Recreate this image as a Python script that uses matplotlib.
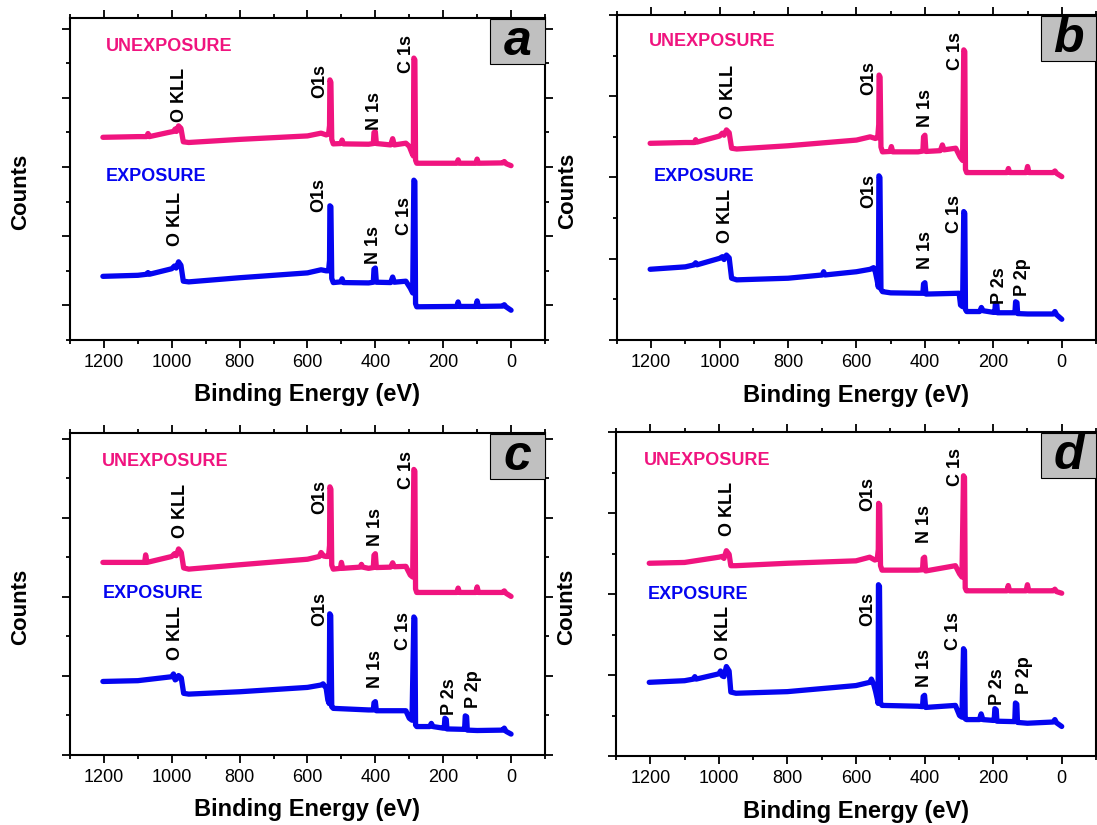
import matplotlib
matplotlib.use("Agg")
import matplotlib.pyplot as plt
from matplotlib.patches import Rectangle
from matplotlib.ticker import MultipleLocator, NullFormatter

plt.rcParams["font.family"] = ["Liberation Sans", "DejaVu Sans"]

PINK = "#f0147f"
BLUE = "#0505f0"

# --- survey spectra: (binding energy eV, counts a.u.) ---
A_UNEXP = [(1203, 4.86), (1150, 4.87), (1100, 4.88), (1074, 4.88), (1070, 4.97), (1066, 4.88),
           (1010, 5.00), (995, 5.03), (990, 5.1), (986, 5.03), (980, 5.19), (973, 5.12), (966, 4.73),
           (950, 4.71), (800, 4.80), (600, 4.90), (560, 4.98), (545, 4.93), (538, 4.95), (535, 5.2),
           (534, 6.52), (531, 6.45), (528.5, 4.8), (524, 4.67), (502, 4.68), (498, 4.78), (494, 4.67),
           (420, 4.66), (406, 4.68), (404, 5.0), (400, 5.02), (397, 4.68), (355, 4.64), (349, 4.82),
           (344, 4.64), (310, 4.69), (300, 4.6), (292, 4.4), (288, 4.32), (286.5, 7.15), (283.5, 7.1),
           (281.5, 4.2), (278, 4.11), (160, 4.11), (156, 4.21), (152, 4.11), (104, 4.11), (100, 4.23),
           (96, 4.11), (25, 4.12), (20, 4.16), (15, 4.1), (0, 4.04)]
A_EXP = [(1203, 0.84), (1100, 0.87), (1074, 0.9), (1070, 0.95), (1066, 0.9), (1000, 1.06), (992, 1.14),
         (987, 1.08), (980, 1.26), (973, 1.16), (966, 0.70), (950, 0.68), (800, 0.80), (600, 0.94),
         (560, 1.03), (545, 1.0), (538, 1.0), (535, 1.3), (534, 2.88), (531, 2.85), (528.5, 0.78),
         (524, 0.66), (502, 0.68), (498, 0.77), (494, 0.66), (420, 0.65), (406, 0.67), (404, 1.05),
         (400, 1.08), (397, 0.67), (355, 0.66), (349, 0.82), (344, 0.67), (310, 0.70), (297, 0.5),
         (290, 0.36), (286.5, 3.62), (283.5, 3.58), (281.5, 0.05), (278, -0.04), (160, -0.03),
         (156, 0.1), (152, -0.03), (104, -0.03), (100, 0.13), (96, -0.03), (25, -0.02), (20, 0.02),
         (15, -0.04), (0, -0.14)]

B_UNEXP = [(1203, 4.84), (1100, 4.86), (1074, 4.86), (1070, 4.93), (1066, 4.87), (1000, 5.02),
           (992, 5.09), (987, 5.04), (980, 5.17), (972, 5.1), (965, 4.72), (950, 4.70), (800, 4.78),
           (600, 4.92), (560, 5.0), (545, 4.96), (538, 4.98), (535, 5.3), (534, 6.52), (531, 6.47),
           (528.5, 4.75), (524, 4.63), (502, 4.64), (498, 4.76), (494, 4.63), (420, 4.63), (406, 4.65),
           (404, 5.0), (400, 5.04), (397, 4.64), (355, 4.66), (349, 4.8), (344, 4.68), (310, 4.72),
           (297, 4.5), (290, 4.42), (286.5, 7.14), (283.5, 7.1), (281.5, 4.2), (278, 4.12), (160, 4.12),
           (156, 4.22), (152, 4.12), (104, 4.12), (100, 4.27), (96, 4.12), (25, 4.12), (20, 4.16),
           (15, 4.1), (0, 4.02)]
B_EXP = [(1203, 1.74), (1100, 1.8), (1074, 1.85), (1070, 1.9), (1066, 1.85), (1000, 2.01), (992, 2.05),
         (987, 1.98), (980, 2.09), (972, 2.02), (965, 1.52), (950, 1.48), (800, 1.52), (700, 1.6),
         (696, 1.68), (692, 1.6), (600, 1.68), (560, 1.74), (550, 1.78), (545, 1.68), (540, 1.48),
         (536, 1.3), (534.5, 4.04), (531.5, 4.0), (528.5, 1.25), (524, 1.19), (500, 1.16), (420, 1.15),
         (406, 1.15), (404, 1.38), (400, 1.41), (397, 1.13), (300, 1.15), (296, 0.86), (290, 0.82),
         (286.5, 3.16), (283.5, 3.12), (281.5, 0.75), (278, 0.70), (240, 0.70), (235, 0.8), (230, 0.72),
         (200, 0.68), (196, 0.68), (194, 0.9), (190, 0.88), (188, 0.67), (140, 0.67), (137, 0.67),
         (135, 0.94), (131, 0.92), (129, 0.65), (100, 0.64), (25, 0.64), (20, 0.7), (15, 0.62),
         (0, 0.51)]

C_UNEXP = [(1203, 4.87), (1100, 4.87), (1080, 4.87), (1077, 5.06), (1073, 4.87), (1000, 5.02),
           (992, 5.09), (987, 5.04), (980, 5.21), (972, 5.12), (965, 4.73), (950, 4.70), (800, 4.81),
           (600, 4.95), (565, 5.02), (560, 5.12), (552, 5.03), (545, 5.02), (538, 5.02), (535, 5.3),
           (534, 6.78), (531, 6.72), (528.5, 4.8), (524, 4.70), (503, 4.72), (500, 4.87), (496, 4.72),
           (445, 4.75), (441, 4.82), (437, 4.75), (420, 4.72), (406, 4.74), (404, 5.05), (400, 5.09),
           (397, 4.74), (355, 4.75), (349, 4.86), (344, 4.76), (310, 4.77), (297, 4.55), (290, 4.5),
           (286.5, 7.22), (283.5, 7.18), (281.5, 4.2), (278, 4.11), (160, 4.11), (156, 4.22),
           (152, 4.11), (104, 4.11), (100, 4.25), (96, 4.11), (25, 4.11), (20, 4.15), (15, 4.09),
           (0, 4.01)]
C_EXP = [(1203, 1.86), (1100, 1.88), (1000, 1.98), (995, 2.05), (990, 1.9), (986, 1.92), (980, 2.01),
         (972, 1.95), (965, 1.56), (950, 1.54), (800, 1.60), (600, 1.71), (560, 1.77), (554, 1.8),
         (545, 1.69), (540, 1.39), (536, 1.3), (534.5, 3.57), (531.5, 3.53), (528.5, 1.22), (524, 1.18),
         (420, 1.14), (406, 1.14), (404, 1.32), (400, 1.35), (397, 1.12), (310, 1.12), (300, 0.93),
         (292, 0.88), (286.5, 3.49), (283.5, 3.45), (281.5, 0.76), (278, 0.72), (240, 0.72), (235, 0.8),
         (230, 0.72), (200, 0.68), (197, 0.68), (195, 0.93), (191, 0.9), (189, 0.66), (140, 0.65),
         (137, 0.65), (135, 0.99), (131, 0.97), (129, 0.63), (100, 0.62), (25, 0.63), (20, 0.68),
         (15, 0.6), (0, 0.53)]

D_UNEXP = [(1203, 4.76), (1100, 4.78), (1000, 4.91), (990, 4.93), (985, 4.88), (978, 5.07), (970, 4.98),
           (965, 4.7), (950, 4.70), (800, 4.76), (600, 4.82), (560, 4.91), (545, 4.84), (538, 4.86),
           (535, 5.1), (534, 6.24), (531, 6.2), (528.5, 4.7), (524, 4.59), (420, 4.59), (406, 4.6),
           (404, 4.88), (400, 4.91), (397, 4.57), (310, 4.70), (298, 4.5), (291, 4.42), (286.5, 6.92),
           (283.5, 6.88), (281.5, 4.15), (278, 4.08), (160, 4.08), (156, 4.21), (152, 4.08), (104, 4.08),
           (100, 4.23), (96, 4.08), (25, 4.08), (20, 4.12), (15, 4.06), (0, 4.02)]
D_EXP = [(1203, 1.82), (1100, 1.86), (1074, 1.9), (1070, 1.96), (1066, 1.9), (1000, 2.03), (995, 2.1),
         (990, 1.98), (985, 1.96), (978, 2.21), (970, 2.1), (965, 1.58), (950, 1.55), (800, 1.59),
         (600, 1.74), (560, 1.82), (555, 1.9), (548, 1.76), (543, 1.6), (538, 1.41), (535.5, 1.3),
         (534.5, 4.23), (531.5, 4.19), (528.5, 1.3), (524, 1.25), (420, 1.23), (406, 1.22), (404, 1.47),
         (400, 1.5), (397, 1.2), (310, 1.25), (298, 1.0), (291, 0.96), (286.5, 2.65), (283.5, 2.6),
         (281.5, 0.92), (278, 0.9), (240, 0.9), (235, 1.04), (230, 0.9), (200, 0.88), (197, 0.88),
         (195, 1.17), (191, 1.14), (189, 0.86), (140, 0.85), (137, 0.85), (135, 1.31), (131, 1.28),
         (129, 0.83), (100, 0.81), (25, 0.84), (20, 0.9), (15, 0.82), (0, 0.73)]

# peak labels: (text, energy, bottom of text)
A_UNEXP_PEAKS = [("O KLL", 976, 5.31), ("O1s", 564, 5.99), ("N 1s", 402, 5.07), ("C 1s", 309, 6.71)]
A_EXP_PEAKS = [("O KLL", 989, 1.71), ("O1s", 567, 2.71), ("N 1s", 404, 1.21), ("C 1s", 314, 2.03)]
B_UNEXP_PEAKS = [("O KLL", 974, 5.43), ("O1s", 564, 6.03), ("N 1s", 399, 5.23), ("C 1s", 310, 6.64)]
B_EXP_PEAKS = [("O KLL", 983, 2.38), ("O1s", 564, 3.24), ("N 1s", 399, 1.74), ("C 1s", 315, 2.63),
               ("P 2s", 183, 0.89), ("P 2p", 114, 1.08)]
C_UNEXP_PEAKS = [("O KLL", 975, 5.49), ("O1s", 564, 6.1), ("N 1s", 400, 5.29), ("C 1s", 308, 6.73)]
C_EXP_PEAKS = [("O KLL", 988, 2.39), ("O1s", 564, 3.25), ("N 1s", 400, 1.69), ("C 1s", 316, 2.66),
               ("P 2s", 181, 1.01), ("P 2p", 111, 1.18)]
D_UNEXP_PEAKS = [("O KLL", 976, 5.44), ("O1s", 566, 6.06), ("N 1s", 400, 5.25), ("C 1s", 309, 6.67)]
D_EXP_PEAKS = [("O KLL", 986, 2.37), ("O1s", 566, 3.22), ("N 1s", 400, 1.7), ("C 1s", 316, 2.62),
               ("P 2s", 186, 1.25), ("P 2p", 110, 1.52)]

# series titles: (energy of left edge, y of centre)
A_TITLES = [(1195, 7.49), (1195, 3.72)]
B_TITLES = [(1207, 7.34), (1193, 4.02)]
C_TITLES = [(1207, 7.43), (1203, 4.09)]
D_TITLES = [(1218, 7.30), (1208, 3.99)]

PANELS = [
    # letter, axes rect [l, b, w, h], ylim, unexp, exp, peaks, titles
    ("a", [0.0638, 0.5879, 0.4330, 0.3903], (-1, 8.31), A_UNEXP, A_EXP, A_UNEXP_PEAKS, A_EXP_PEAKS, A_TITLES),
    ("b", [0.5624, 0.5879, 0.4367, 0.3940], (0, 8.0), B_UNEXP, B_EXP, B_UNEXP_PEAKS, B_EXP_PEAKS, B_TITLES),
    ("c", [0.0638, 0.0848, 0.4330, 0.3903], (0, 8.14), C_UNEXP, C_EXP, C_UNEXP_PEAKS, C_EXP_PEAKS, C_TITLES),
    ("d", [0.5615, 0.0836, 0.4376, 0.3927], (0, 8.0), D_UNEXP, D_EXP, D_UNEXP_PEAKS, D_EXP_PEAKS, D_TITLES),
]

fig = plt.figure(figsize=(10.97, 8.25), dpi=100)

for letter, rect, ylim, unexp, exp, up, ep, titles in PANELS:
    ax = fig.add_axes(rect)
    for trace, color in ((unexp, PINK), (exp, BLUE)):
        xs = [p[0] for p in trace]
        ys = [p[1] for p in trace]
        ax.plot(xs, ys, color=color, lw=3.8, solid_joinstyle="round", solid_capstyle="round")

    for peaks in (up, ep):
        for txt, x, y in peaks:
            ax.text(x, y, txt, rotation=90, ha="center", va="bottom",
                    fontsize=13, fontweight="bold")

    (ux, uy), (ex, ey) = titles
    ax.text(ux, uy, "UNEXPOSURE", color=PINK, fontsize=13, fontweight="bold", ha="left", va="center")
    ax.text(ex, ey, "EXPOSURE", color=BLUE, fontsize=13, fontweight="bold", ha="left", va="center")

    ax.set_xlim(1300, -100)
    ax.set_ylim(*ylim)
    ax.xaxis.set_major_locator(MultipleLocator(200))
    ax.xaxis.set_minor_locator(MultipleLocator(100))
    ax.yaxis.set_major_locator(MultipleLocator(2))
    ax.yaxis.set_minor_locator(MultipleLocator(1))
    ax.yaxis.set_major_formatter(NullFormatter())
    ax.tick_params(which="both", direction="out", top=True, right=True, width=1.3,
                   labelsize=13, pad=4)
    ax.tick_params(which="major", length=6)
    ax.tick_params(which="minor", length=3)
    for s in ax.spines.values():
        s.set_linewidth(1.5)

    ax.set_xlabel("Binding Energy (eV)", fontsize=17, fontweight="bold", va="center")
    ax.xaxis.set_label_coords(0.5, -0.17)
    ax.set_ylabel("Counts", fontsize=16, fontweight="bold", va="center", ha="center")
    ax.yaxis.set_label_coords(-0.103, 0.46)

    ax.add_patch(Rectangle((0.885, 0.857), 0.115, 0.14, transform=ax.transAxes,
                           facecolor="#c0c0c0", edgecolor="black", lw=0.8, clip_on=False, zorder=5))
    ax.text(0.9425, 0.925, letter, transform=ax.transAxes, ha="center", va="center",
            fontsize=36, fontweight="bold", style="italic", zorder=6)

fig.savefig("out.png", dpi=100)
